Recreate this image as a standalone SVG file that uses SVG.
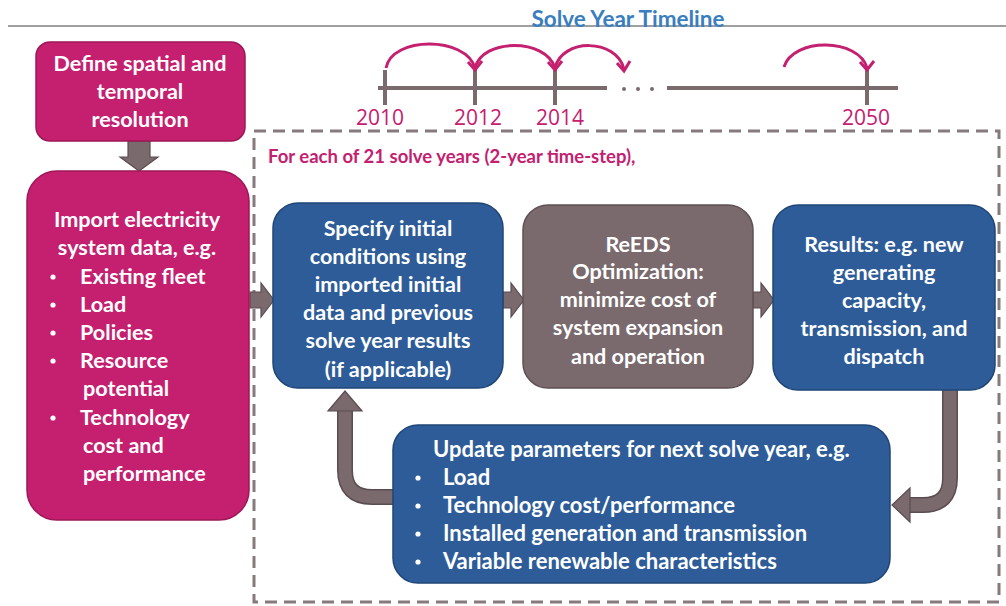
<svg xmlns="http://www.w3.org/2000/svg" width="1006" height="606" viewBox="0 0 1006 606">
<style>
  .t { font-family: Lato, "Liberation Sans", sans-serif; font-weight: bold; font-size: 21.6px; fill: #ffffff; }
  .u { font-size: 22px; }
  .c { text-anchor: middle; }
  .dot { fill: #ffffff; }
  .mag { fill: #c4206f; stroke: #9e1757; stroke-width: 1.5; }
  .blu { fill: #2d5c99; stroke: #1f4576; stroke-width: 1.5; }
  .gry { fill: #7a6a6e; stroke: #5e5054; stroke-width: 1.5; }
  .arw { fill: #7a6a6e; stroke: #5a4c50; stroke-width: 1.2; }
  .yr { font-family: "Open Sans", "Liberation Sans", sans-serif; font-size: 21px; fill: #c4206f; text-anchor: middle; }
  .hop { fill: none; stroke: #c4206f; stroke-width: 3; }
  .tick { stroke: #7a6a6e; stroke-width: 4; }
</style>

<rect width="1006" height="606" fill="#ffffff"/>

<!-- header rule and timeline title -->
<line x1="8" y1="26" x2="1006" y2="26" stroke="#7f7f7f" stroke-width="1.5"/>
<text x="628" y="27" font-family="Lato, 'Liberation Sans', sans-serif" font-weight="bold" font-size="22.5px" fill="#3a7ec0" text-anchor="middle">Solve Year Timeline</text>

<!-- solve year timeline -->
<g id="timeline">
  <line x1="378" y1="88" x2="607" y2="88" class="tick"/>
  <line x1="667" y1="88" x2="898" y2="88" class="tick"/>
  <circle cx="624" cy="89" r="2" fill="#7a6a6e"/>
  <circle cx="638" cy="89" r="2" fill="#7a6a6e"/>
  <circle cx="652" cy="89" r="2" fill="#7a6a6e"/>
  <line x1="385" y1="70" x2="385" y2="105" class="tick"/>
  <line x1="475" y1="70" x2="475" y2="105" class="tick"/>
  <line x1="555" y1="70" x2="555" y2="105" class="tick"/>
  <line x1="867" y1="70" x2="867" y2="105" class="tick"/>
  <text class="yr" x="380" y="125">2010</text>
  <text class="yr" x="478" y="125">2012</text>
  <text class="yr" x="560" y="125">2014</text>
  <text class="yr" x="866" y="125">2050</text>
  <path class="hop" d="M386,68 C392,36 466,36 475,68"/>
  <path class="hop" d="M475,68 C482,38 546,38 555,68"/>
  <path class="hop" d="M555,68 C562,38 616,38 624,69"/>
  <path class="hop" d="M784,67 C793,37 859,38 867,68"/>
  <path class="hop" d="M468,62 L475,70 L482,61"/>
  <path class="hop" d="M548,62 L555,70 L562,61"/>
  <path class="hop" d="M617,63 L624,71 L630,61"/>
  <path class="hop" d="M860,62 L867,70 L874,61"/>
</g>

<!-- solve-year loop frame -->
<g id="loop-frame">
  <rect x="254" y="131" width="745" height="471" fill="none" stroke="#867a7d" stroke-width="3" stroke-dasharray="12 7"/>
  <text x="268" y="163" font-family="Lato, 'Liberation Sans', sans-serif" font-weight="bold" font-size="18.5px" fill="#c4206f">For each of 21 solve years (2-year time-step),</text>
</g>

<!-- connectors -->
<g id="connectors">
  <polygon class="arw" points="128,141 150,141 150,157 158,157 139,171 120,157 128,157"/>
  <polygon class="arw" points="250,292 261,292 261,283 274,300 261,317 261,308 250,308"/>
  <polygon class="arw" points="503,292 511,292 511,283 524,300 511,317 511,308 503,308"/>
  <polygon class="arw" points="753,292 761,292 761,283 774,300 761,317 761,308 753,308"/>
  <!-- results feed the parameter update -->
  <path d="M950,390 V478 Q950,505 923,505 H908" fill="none" stroke="#5a4c50" stroke-width="16"/>
  <path d="M950,389 V478 Q950,505 923,505 H907" fill="none" stroke="#7a6a6e" stroke-width="13"/>
  <polygon class="arw" points="910,488 892,505 910,522"/>
  <!-- updated parameters return to the initial conditions -->
  <path d="M394,497 H372 Q345,497 345,470 V410" fill="none" stroke="#5a4c50" stroke-width="16"/>
  <path d="M395,497 H372 Q345,497 345,470 V409" fill="none" stroke="#7a6a6e" stroke-width="13"/>
  <polygon class="arw" points="328,411 345,391 362,411"/>
</g>

<g id="define-resolution">
  <rect class="mag" x="36" y="42" width="209" height="99" rx="14"/>
  <text class="t c" x="140" y="71">Define spatial and</text>
  <text class="t c" x="140" y="99">temporal</text>
  <text class="t c" x="140" y="127">resolution</text>
</g>

<g id="import-data">
  <rect class="mag" x="27" y="171" width="222" height="349" rx="30"/>
  <text class="t c" x="137" y="227">Import electricity</text>
  <text class="t c" x="137" y="255">system data, e.g.</text>
  <circle class="dot" cx="53" cy="277" r="2.6"/>
  <circle class="dot" cx="53" cy="305" r="2.6"/>
  <circle class="dot" cx="53" cy="333" r="2.6"/>
  <circle class="dot" cx="53" cy="361" r="2.6"/>
  <circle class="dot" cx="53" cy="418" r="2.6"/>
  <g class="t">
    <text x="80" y="284">Existing fleet</text>
    <text x="80" y="312">Load</text>
    <text x="80" y="340">Policies</text>
    <text x="80" y="368">Resource</text>
    <text x="83" y="396">potential</text>
    <text x="80" y="425">Technology</text>
    <text x="83" y="453">cost and</text>
    <text x="83" y="481">performance</text>
  </g>
</g>

<g id="initial-conditions">
  <rect class="blu" x="273" y="203" width="230" height="185" rx="25"/>
  <text class="t c" x="388" y="236">Specify initial</text>
  <text class="t c" x="388" y="264">conditions using</text>
  <text class="t c" x="388" y="292">imported initial</text>
  <text class="t c" x="388" y="320">data and previous</text>
  <text class="t c" x="388" y="348">solve year results</text>
  <text class="t c" x="388" y="377">(if applicable)</text>
</g>

<g id="reeds-optimization">
  <rect class="gry" x="523" y="205" width="230" height="183" rx="25"/>
  <text class="t c" x="638" y="252">ReEDS</text>
  <text class="t c" x="638" y="279">Optimization:</text>
  <text class="t c" x="638" y="307">minimize cost of</text>
  <text class="t c" x="638" y="335">system expansion</text>
  <text class="t c" x="638" y="364">and operation</text>
</g>

<g id="results">
  <rect class="blu" x="773" y="205" width="222" height="185" rx="25"/>
  <text class="t c" x="884" y="252">Results: e.g. new</text>
  <text class="t c" x="884" y="280">generating</text>
  <text class="t c" x="884" y="308">capacity,</text>
  <text class="t c" x="884" y="336">transmission, and</text>
  <text class="t c" x="884" y="364">dispatch</text>
</g>

<g id="update-parameters">
  <rect class="blu" x="393" y="425" width="497" height="158" rx="25"/>
  <circle class="dot" cx="418" cy="478" r="2.6"/>
  <circle class="dot" cx="418" cy="506" r="2.6"/>
  <circle class="dot" cx="418" cy="534" r="2.6"/>
  <circle class="dot" cx="418" cy="562" r="2.6"/>
  <g class="t u">
    <text x="433" y="457">Update parameters for next solve year, e.g.</text>
    <text x="443" y="485">Load</text>
    <text x="443" y="513">Technology cost/performance</text>
    <text x="443" y="541">Installed generation and transmission</text>
    <text x="443" y="569">Variable renewable characteristics</text>
  </g>
</g>
</svg>
